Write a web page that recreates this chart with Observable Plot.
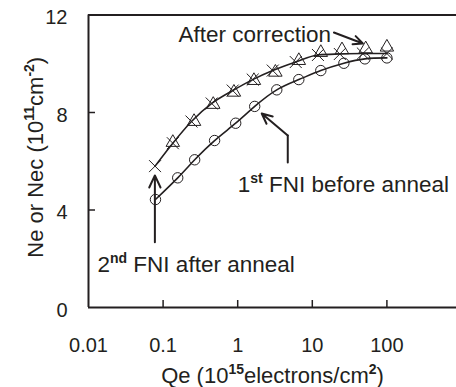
<!DOCTYPE html>
<html><head><meta charset="utf-8">
<script src="https://cdn.jsdelivr.net/npm/d3@7"></script>
<script src="https://cdn.jsdelivr.net/npm/@observablehq/plot@0.6"></script>
<style>body{margin:0;background:#fff} svg{display:block}</style>
</head><body><div id="chart"></div>
<script>
// 1st FNI before anneal (circles)
const qeBefore = [0.079,0.157,0.265,0.49,0.94,1.69,3.34,6.59,13.0,26.5,50.7,100];
const neBefore = [4.43,5.32,6.06,6.85,7.56,8.25,8.93,9.35,9.72,10.02,10.20,10.24];
// 2nd FNI after anneal (crosses)
const qeAfter = [0.078,0.135,0.24,0.448,0.857,1.59,2.95,6.0,11.9,23.4,47.6,100];
const neAfter = [5.80,6.74,7.63,8.37,8.90,9.35,9.72,10.07,10.36,10.40,10.42,10.42];
// After correction (triangles)
const qeCorr = [0.135,0.26,0.47,0.89,1.65,3.2,6.6,13,25,52,100];
const neCorr = [6.77,7.63,8.33,8.83,9.31,9.65,10.13,10.46,10.57,10.61,10.68];

const xTicks = [0.01,0.1,1,10,100];
const yTicks = [0,4,8,12];

// annotations (data coordinates)
const labelText = ["After correction","1{st} FNI before anneal","2{nd} FNI after anneal"];
const labelQe = [0.161, 1.0, 0.0132];
const labelNe = [10.91, 4.73, 1.45];
const arrowX1 = [19.5, 4.69, 0.0776];
const arrowY1 = [11.28, 7.06, 2.68];
const arrowX2 = [47.6, 2.10, 0.0776];
const arrowY2 = [10.83, 7.96, 5.42];
const leaderQe = [4.69, 4.69];
const leaderNe = [5.95, 7.06];

const ink = "#231f20";
const rows = (xs, ys) => xs.map((x, i) => ({x, y: ys[i]}));
const before = rows(qeBefore, neBefore);
const after = rows(qeAfter, neAfter);
const corr = rows(qeCorr, neCorr);
const labels = labelText.map((t, i) => ({t, x: labelQe[i], y: labelNe[i]}));
const arrows = arrowX1.map((x1, i) => ({x1, y1: arrowY1[i], x2: arrowX2[i], y2: arrowY2[i]}));
const leader = rows(leaderQe, leaderNe);

const chart = Plot.plot({
  width: 456, height: 387,
  marginLeft: 88, marginTop: 14.5, marginBottom: 80, marginRight: 0,
  style: {fontFamily: "'Liberation Sans', Arial, sans-serif", fontSize: "20px", color: ink, background: "#fff", overflow: "visible"},
  x: {type: "log", domain: [0.01, 1000], range: [88, 461]},
  y: {domain: [0, 12]},
  marks: [
    Plot.axisX(xTicks, {tickSize: 0, tickPadding: 30, tickFormat: d => String(d), fontSize: 20, label: null}),
    Plot.axisX(xTicks.slice(1), {tickSize: 7, dy: -7, fill: "none", label: null, strokeWidth: 1.5}),
    Plot.axisY(yTicks, {tickSize: 0, tickPadding: 21, dy: 3, fontSize: 20, label: null}),
    Plot.axisY(yTicks.slice(1, 3), {tickSize: 7, dx: 7, fill: "none", label: null, strokeWidth: 1.5}),
    Plot.ruleY([12], {stroke: ink, strokeWidth: 2}),
    Plot.ruleY([0], {stroke: ink, strokeWidth: 2}),
    Plot.ruleX([0.01], {stroke: ink, strokeWidth: 2}),
    Plot.line(before, {x: "x", y: "y", curve: "natural", stroke: ink, strokeWidth: 1.6}),
    Plot.line(after, {x: "x", y: "y", curve: "monotone-x", stroke: ink, strokeWidth: 1.6}),
    Plot.dot(before, {x: "x", y: "y", r: 5.2, stroke: ink, strokeWidth: 1, fill: "none"}),
    Plot.dot(after, {x: "x", y: "y", symbol: "times", r: 5.5, stroke: ink, strokeWidth: 1}),
    Plot.dot(corr, {x: "x", y: "y", symbol: "triangle", r: 5, stroke: ink, strokeWidth: 1, fill: "none"}),
    Plot.text(labels, {x: "x", y: "y", text: "t", textAnchor: "start", lineAnchor: "bottom", fontSize: 22.5, fill: ink}),
    Plot.line(leader, {x: "x", y: "y", stroke: ink, strokeWidth: 2}),
    Plot.arrow(arrows, {x1: "x1", y1: "y1", x2: "x2", y2: "y2", stroke: ink, strokeWidth: 2, headLength: 10, headAngle: 50}),
    Plot.text(["Ne or Nec (10{11}cm{-2})"], {frameAnchor: "left", textAnchor: "middle", rotate: -90, lineAnchor: "bottom", dx: -46, dy: -4, fontSize: 22, fill: ink}),
    Plot.text(["Qe (10{15}electrons/cm{2})"], {frameAnchor: "bottom", textAnchor: "middle", lineAnchor: "bottom", dy: 75, fontSize: 22, fill: ink})
  ]
});

// superscripts: text inside {...}
d3.select(chart).selectAll("text").each(function() {
  const t = this.textContent;
  if (!t.includes("{")) return;
  const el = d3.select(this);
  el.text(null);
  const parts = t.split(/[{}]/);
  let raised = false;
  parts.forEach((p, i) => {
    const sup = i % 2 === 1;
    if (!p) { return; }
    const ts = el.append("tspan").text(p);
    if (sup && !raised) { ts.attr("dy", -9).attr("font-size", 14).attr("font-weight", "bold"); raised = true; }
    else if (!sup && raised) { ts.attr("dy", 9); raised = false; }
  });
});

document.getElementById("chart").appendChild(chart);
</script>
</body></html>
